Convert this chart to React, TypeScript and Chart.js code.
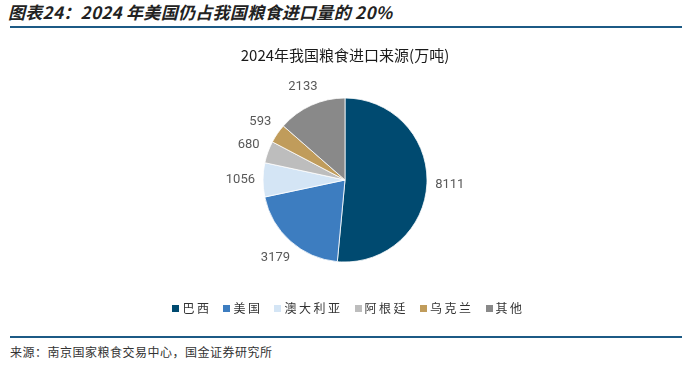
import React, { useEffect, useRef } from "react";
import { Chart, registerables } from "chart.js";

Chart.register(...registerables);

const headerTitle = "图表24：2024 年美国仍占我国粮食进口量的 20%";
const chartTitle = "2024年我国粮食进口来源(万吨)";
const sourceText = "来源：南京国家粮食交易中心，国金证券研究所";
const categories = ["巴西", "美国", "澳大利亚", "阿根廷", "乌克兰", "其他"];
const values = [8111, 3179, 1056, 680, 593, 2133];
const colors = ["#004a70", "#3d7dc0", "#d4e5f5", "#bdbdbd", "#c09c5b", "#898989"];

const CJK = "'Noto Sans CJK SC', 'Noto Sans', sans-serif";

const outsideLabels = {
  id: "outsideLabels",
  afterDatasetsDraw(chart: any) {
    const ctx = chart.ctx;
    const meta = chart.getDatasetMeta(0);
    ctx.save();
    ctx.font = "13px Roboto, 'Noto Sans', sans-serif";
    ctx.fillStyle = "#595959";
    ctx.textAlign = "center";
    ctx.textBaseline = "middle";
    meta.data.forEach((arc: any, i: number) => {
      const { x, y, startAngle, endAngle, outerRadius } = arc.getProps(
        ["x", "y", "startAngle", "endAngle", "outerRadius"],
        true
      );
      const mid = (startAngle + endAngle) / 2;
      const cx = Math.cos(mid);
      const cy = Math.sin(mid);
      const text = String(chart.data.datasets[0].data[i]);
      const w = ctx.measureText(text).width;
      const h = 13;
      const d = outerRadius + 8 + Math.abs(cx) * w / 2 + Math.abs(cy) * h / 2;
      ctx.fillText(text, x + cx * d, y + cy * d);
    });
    ctx.restore();
  },
};

function PieChart() {
  const ref = useRef<HTMLCanvasElement>(null);
  useEffect(() => {
    if (!ref.current) return;
    const chart = new Chart(ref.current, {
      type: "pie",
      data: {
        labels: categories,
        datasets: [
          {
            data: values,
            backgroundColor: colors,
            borderColor: "#ffffff",
            borderWidth: 0.8,
            radius: 82,
          } as any,
        ],
      },
      options: {
        animation: false,
        responsive: false,
        maintainAspectRatio: false,
        layout: { padding: { left: 0, right: 10, top: 0, bottom: 4 } },
        plugins: {
          legend: { display: false },
          tooltip: { enabled: false },
          title: {
            display: true,
            text: chartTitle,
            color: "#1a1a1a",
            font: { family: CJK, size: 15, weight: "normal" as any },
            padding: { top: 16, bottom: 0 },
          },
        },
      },
      plugins: [outsideLabels],
    });
    return () => chart.destroy();
  }, []);
  return (
    <canvas
      ref={ref}
      width={700}
      height={270}
      style={{ position: "absolute", left: 0, top: 30, width: 700, height: 270 }}
    />
  );
}

function Legend() {
  return (
    <div
      style={{
        position: "absolute",
        left: 0,
        top: 300,
        width: 697,
        height: 16,
        display: "flex",
        justifyContent: "center",
        alignItems: "center",
        fontFamily: CJK,
        fontSize: 12,
        color: "#333",
      }}
    >
      {categories.map((c, i) => (
        <div
          key={c}
          style={{
            display: "flex",
            alignItems: "center",
            marginRight: i === categories.length - 1 ? 0 : 12,
          }}
        >
          <span
            style={{
              display: "inline-block",
              width: 7,
              height: 7,
              background: colors[i],
              marginRight: 3,
            }}
          />
          <span style={{ letterSpacing: 2.5, lineHeight: "16px" }}>{c}</span>
        </div>
      ))}
    </div>
  );
}

export default function App() {
  return (
    <div
      style={{
        position: "absolute",
        left: 0,
        top: 0,
        width: 700,
        height: 370,
        background: "#fff",
        overflow: "hidden",
      }}
    >
      <div
        style={{
          position: "absolute",
          left: 8,
          top: 1,
          fontFamily: CJK,
          fontSize: 17,
          fontWeight: "bold",
          fontStyle: "italic",
          color: "#222",
          lineHeight: "22px",
          letterSpacing: 0.3,
          whiteSpace: "nowrap",
        }}
      >
        {headerTitle}
      </div>
      <div
        style={{
          position: "absolute",
          left: 10,
          top: 26,
          width: 672,
          height: 2,
          background: "#1c5a85",
        }}
      />
      <PieChart />
      <Legend />
      <div
        style={{
          position: "absolute",
          left: 10,
          top: 336,
          width: 672,
          height: 2,
          background: "#1c5a85",
        }}
      />
      <div
        style={{
          position: "absolute",
          left: 10,
          top: 344,
          fontFamily: CJK,
          fontSize: 12,
          color: "#333",
          lineHeight: "16px",
          letterSpacing: 0.5,
          whiteSpace: "nowrap",
        }}
      >
        {sourceText}
      </div>
    </div>
  );
}
